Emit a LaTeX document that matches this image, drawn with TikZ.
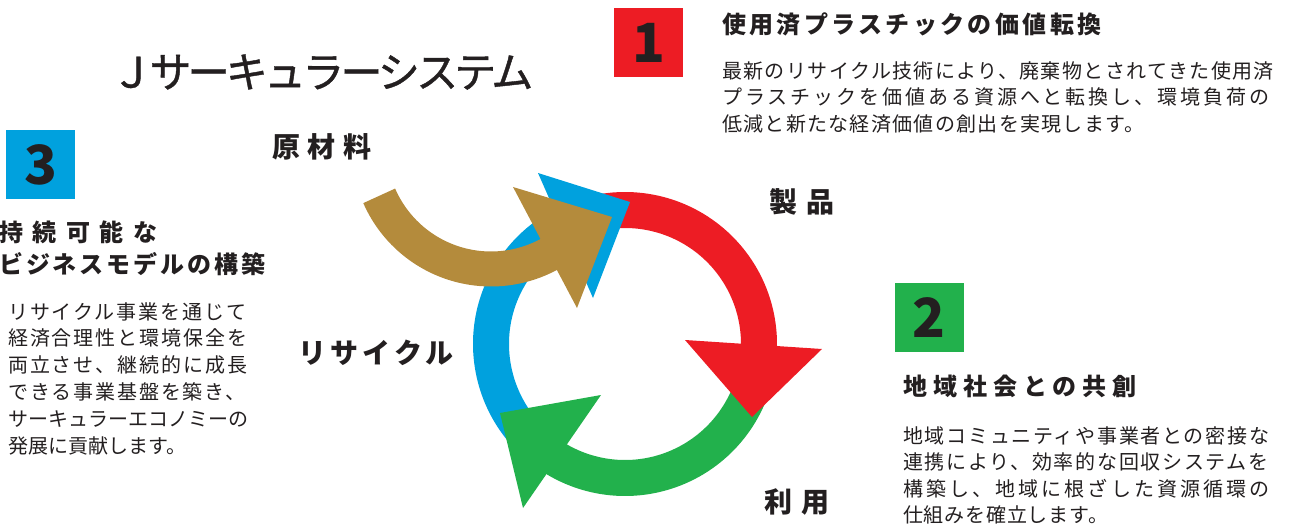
\documentclass[tikz,border=0pt]{standalone}
\usepackage{fontspec}
\setmainfont{Noto Sans CJK JP}
\usepackage{xcolor}
\definecolor{jred}{RGB}{237,28,36}
\definecolor{jblue}{RGB}{0,161,222}
\definecolor{jgreen}{RGB}{34,177,76}
\definecolor{jbrown}{RGB}{180,139,60}
\definecolor{jtext}{RGB}{35,31,32}
\newcommand{\jtrack}[2]{{\addfontfeatures{LetterSpace=#1}#2}}
\tikzset{numbox/.style = {shape=rectangle,minimum size=69pt,inner sep=0pt,font=\fontsize{54}{54}\selectfont\bfseries}}
\tikzset{cyclabel/.style = {inner sep=0pt,font=\fontsize{28}{28}\selectfont\bfseries}}
\tikzset{heading/.style = {inner sep=0pt,anchor=west,font=\fontsize{24}{32}\selectfont\bfseries}}
\tikzset{bodytext/.style = {inner sep=0pt,anchor=north west,align=left,font=\fontsize{20}{26.5}\selectfont}}
\tikzset{ring/.style = {line width=36pt}}

\begin{document}
\begin{tikzpicture}[x=1pt,y=-1pt,text=jtext]
    \useasboundingbox (0,0) rectangle (1291,524);

    % cycle
    \coordinate (R) at (625,344);
    \coordinate (S) at (491,147);
    \draw[ring,jblue] (R) ++(126:134) arc[start angle=126,end angle=243,radius=134];
    \draw[ring,jgreen] (R) ++(12:134) arc[start angle=12,end angle=122,radius=134];
    \fill[jgreen] (601,395) -- (500,413) -- (523,508) -- cycle;
    \draw[ring,jred] (R) ++(258:134) arc[start angle=258,end angle=362,radius=134];
    \fill[jred] (685,340) -- (822,349) -- (752,417) -- cycle;
    \fill[jblue] (538,173) -- (630,202) -- (593,298) -- cycle;
    \draw[jbrown,line width=35pt] (S) ++(156.4:122) arc[start angle=156.4,end angle=60,radius=122];
    \fill[jbrown] (513,187) -- (612,217) -- (577,308) -- cycle;

    \node[inner sep=0pt,anchor=west,font=\fontsize{42}{42}\selectfont] (title) at (111,72) {{\addfontfeatures{LetterSpace=-9,FakeBold=1}Ｊサーキュラーシステム}};

    \node[cyclabel] (raw) at (322,147) {\jtrack{27}{原材料}};
    \node[cyclabel] (product) at (802,202) {\jtrack{32}{製品}};
    \node[cyclabel] (use) at (797,502) {\jtrack{32}{利用}};
    \node[cyclabel] (recycle) at (376,353) {\jtrack{15}{リサイクル}};

    \node[numbox,fill=jred] (one) at (648.5,42.5) {1};
    \node[numbox,fill=jgreen] (two) at (929,317.5) {2};
    \node[numbox,fill=jblue] (three) at (40.5,164.5) {3};

    \node[heading] (headone) at (722,24) {\jtrack{14}{使用済プラスチックの価値転換}};
    \node[bodytext] (textone) at (722,61) {\jtrack{7}{最新のリサイクル技術により、廃棄物とされてきた使用済}\\\jtrack{15}{プラスチックを価値ある資源へと転換し、環境負荷の}\\\jtrack{6.5}{低減と新たな経済価値の創出を実現します。}};

    \node[heading] (headtwo) at (903,386) {\jtrack{25}{地域社会との共創}};
    \node[bodytext] (texttwo) at (903,426) {\jtrack{8.5}{地域コミュニティや事業者との密接な}\\\jtrack{8.5}{連携により、効率的な回収システムを}\\\jtrack{15.5}{構築し、地域に根ざした資源循環の}\\\jtrack{4}{仕組みを確立します。}};

    \node[heading,anchor=north west,align=left] (headthree) at (-1,221) {\jtrack{40}{持続可能な}\\\jtrack{12}{ビジネスモデルの構築}};
    \node[bodytext,font=\fontsize{20}{26.8}\selectfont] (textthree) at (8,302) {\jtrack{9.5}{リサイクル事業を通じて}\\\jtrack{9.5}{経済合理性と環境保全を}\\\jtrack{9.5}{両立させ、継続的に成長}\\\jtrack{9.5}{できる事業基盤を築き、}\\サーキュラーエコノミーの\\発展に貢献します。};
\end{tikzpicture}
\end{document}
